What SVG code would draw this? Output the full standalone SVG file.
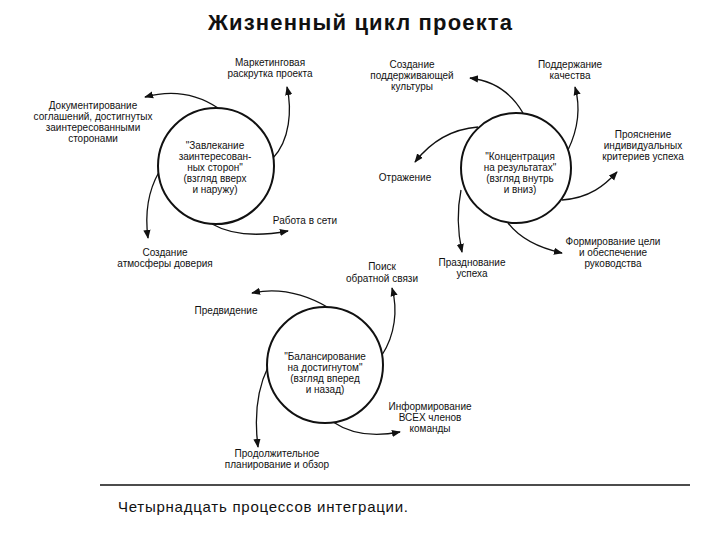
<svg xmlns="http://www.w3.org/2000/svg" width="720" height="540" viewBox="0 0 720 540">
<style>
text{font-family:"Liberation Sans",Arial,sans-serif;font-size:10px;fill:#111;text-anchor:middle}
.title{font-size:22px;font-weight:bold}
.cap{font-size:15px;text-anchor:start}
.hub{fill:#fff;stroke:#111;stroke-width:2}
.arr{fill:none;stroke:#111;stroke-width:1.3;marker-end:url(#ah)}
</style>
<defs>
<marker id="ah" viewBox="0 0 10 10" refX="9" refY="5" markerWidth="9" markerHeight="9" markerUnits="userSpaceOnUse" orient="auto">
<path d="M0,1 L10,5 L0,9 Z" fill="#111"/>
</marker>
</defs>
<rect width="720" height="540" fill="#fff"/>
<text class="title" x="360" y="30" textLength="304">Жизненный цикл проекта</text>

<g id="connectors">
<path class="arr" d="M218 108 Q185 86 145 97"/>
<path class="arr" d="M273 158 C290 140 292 110 287 87"/>
<path class="arr" d="M212 224 Q240 240 288 231"/>
<path class="arr" d="M159 172 Q143 200 148 238"/>

<path class="arr" d="M523 113 Q505 82 470 78"/>
<path class="arr" d="M568 150 C580 125 580 105 575 87"/>
<path class="arr" d="M562 200 C590 198 605 185 617 172"/>
<path class="arr" d="M508 223 Q525 245 562 253"/>
<path class="arr" d="M461 190 Q455 220 462 252"/>
<path class="arr" d="M478 127 Q440 130 415 162"/>

<path class="arr" d="M329 308 Q290 285 252 293"/>
<path class="arr" d="M382 355 C395 335 398 310 392 288"/>
<path class="arr" d="M333 422 Q360 440 400 432"/>
<path class="arr" d="M268 367 Q252 400 258 447"/>
</g>

<g id="hub1">
<circle class="hub" cx="216" cy="166" r="58"/>
<text x="215" y="149">"Завлекание</text>
<text x="215" y="160">заинтересован-</text>
<text x="215" y="171">ных сторон"</text>
<text x="215" y="182">(взгляд вверх</text>
<text x="215" y="193">и наружу)</text>
</g>
<g id="hub2">
<circle class="hub" cx="516" cy="168" r="55"/>
<text x="520" y="160">"Концентрация</text>
<text x="520" y="171">на результатах"</text>
<text x="520" y="182">(взгляд внутрь</text>
<text x="520" y="193">и вниз)</text>
</g>
<g id="hub3">
<circle class="hub" cx="325" cy="365" r="58"/>
<text x="325" y="360">"Балансирование</text>
<text x="325" y="371">на достигнутом"</text>
<text x="325" y="382">(взгляд вперед</text>
<text x="325" y="393">и назад)</text>
</g>

<g id="n-marketing"><text x="270" y="66">Маркетинговая</text><text x="270" y="77">раскрутка проекта</text></g>
<g id="n-doc"><text x="93" y="109">Документирование</text><text x="93" y="120">соглашений, достигнутых</text><text x="93" y="131">заинтересованными</text><text x="93" y="142">сторонами</text></g>
<g id="n-network"><text x="305" y="224">Работа в сети</text></g>
<g id="n-trust"><text x="165" y="256">Создание</text><text x="165" y="267">атмосферы доверия</text></g>

<g id="n-culture"><text x="412" y="68">Создание</text><text x="412" y="79">поддерживающей</text><text x="412" y="90">культуры</text></g>
<g id="n-quality"><text x="570" y="68">Поддержание</text><text x="570" y="79">качества</text></g>
<g id="n-criteria"><text x="643" y="138">Прояснение</text><text x="643" y="149">индивидуальных</text><text x="643" y="160">критериев успеха</text></g>
<g id="n-reflect"><text x="405" y="181">Отражение</text></g>
<g id="n-goal"><text x="613" y="245">Формирование цели</text><text x="613" y="256">и обеспечение</text><text x="613" y="267">руководства</text></g>
<g id="n-celebrate"><text x="472" y="266">Празднование</text><text x="472" y="277">успеха</text></g>

<g id="n-feedback"><text x="382" y="270">Поиск</text><text x="382" y="282">обратной связи</text></g>
<g id="n-foresight"><text x="226" y="314">Предвидение</text></g>
<g id="n-inform"><text x="430" y="410">Информирование</text><text x="430" y="421">ВСЕХ членов</text><text x="430" y="432">команды</text></g>
<g id="n-plan"><text x="277" y="457">Продолжительное</text><text x="277" y="468">планирование и обзор</text></g>

<line x1="100" y1="485" x2="690" y2="485" stroke="#111" stroke-width="1.5"/>
<text class="cap" x="118" y="512" textLength="290">Четырнадцать процессов интеграции.</text>
</svg>
